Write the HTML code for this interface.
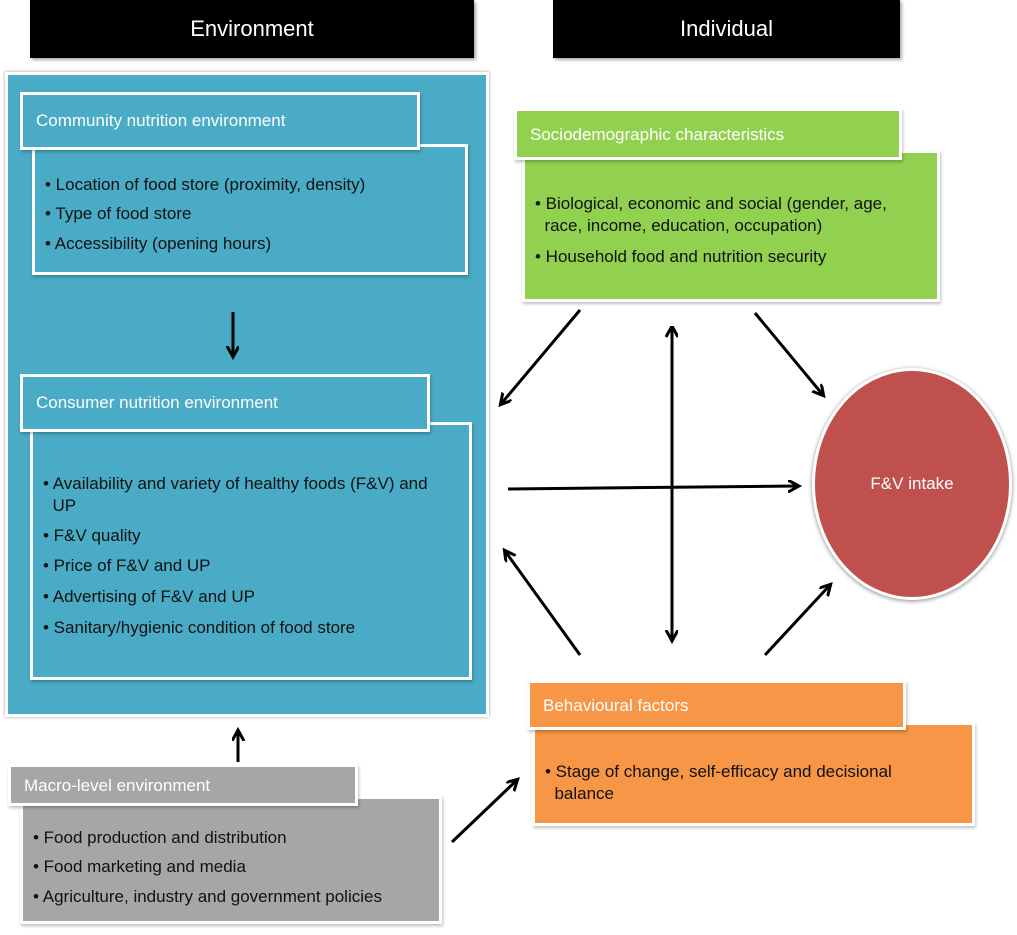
<!DOCTYPE html>
<html><head><meta charset="utf-8"><style>
body{margin:0;width:1017px;height:935px;background:#fff;position:relative;overflow:hidden;font-family:"Liberation Sans",sans-serif}
.b{position:absolute;box-sizing:border-box}
.hdr{background:#000;color:#fff;font-size:22px;text-align:center;line-height:58px;box-shadow:2px 2px 3px #aaa}
.t{border:3px solid #fff;color:#fff;font-size:17px;padding-left:13px;box-shadow:1px 2px 3px rgba(0,0,0,.25)}
.c{border:3px solid #fff;font-size:17px;color:#111;box-shadow:1px 2px 3px rgba(0,0,0,.25)}
.c div{position:absolute;left:10px}
</style></head><body>
<div class="b hdr" style="left:30px;top:0;width:444px;height:58px">Environment</div>
<div class="b hdr" style="left:553px;top:0;width:347px;height:58px">Individual</div>

<div class="b" style="left:5px;top:72px;width:484px;height:645px;background:#4aabc6;border:3px solid #fff;box-shadow:0 0 3px #999"></div>
<div class="b c" style="left:32px;top:144px;width:436px;height:131px;background:#4aabc6">
<div style="top:28px">• Location of food store (proximity, density)</div>
<div style="top:57px">• Type of food store</div>
<div style="top:87px">• Accessibility (opening hours)</div></div>
<div class="b t" style="left:20px;top:92px;width:400px;height:58px;background:#4aabc6;line-height:52px">Community nutrition environment</div>

<div class="b c" style="left:30px;top:422px;width:442px;height:258px;background:#4aabc6">
<div style="top:48px;width:420px;line-height:22px">• Availability and variety of healthy foods (F&amp;V) and<br>&nbsp;&nbsp;UP</div>
<div style="top:101px">• F&amp;V quality</div>
<div style="top:131px">• Price of F&amp;V and UP</div>
<div style="top:162px">• Advertising of F&amp;V and UP</div>
<div style="top:193px">• Sanitary/hygienic condition of food store</div></div>
<div class="b t" style="left:20px;top:374px;width:410px;height:58px;background:#4aabc6;line-height:52px">Consumer nutrition environment</div>

<div class="b c" style="left:522px;top:150px;width:418px;height:152px;background:#92d050">
<div style="top:40px;line-height:22px">• Biological, economic and social (gender, age,<br>&nbsp;&nbsp;race, income, education, occupation)</div>
<div style="top:94px">• Household food and nutrition security</div></div>
<div class="b t" style="left:514px;top:108px;width:388px;height:52px;background:#92d050;line-height:48px">Sociodemographic characteristics</div>

<div class="b" style="left:812px;top:368px;width:200px;height:232px;border-radius:50%;background:#c0504d;border:3px solid #fff;box-shadow:0 1px 4px #888;color:#fff;font-size:17px;text-align:center;line-height:226px">F&amp;V intake</div>

<div class="b c" style="left:532px;top:722px;width:443px;height:104px;background:#f79646">
<div style="top:36px;line-height:22px">• Stage of change, self-efficacy and decisional<br>&nbsp;&nbsp;balance</div></div>
<div class="b t" style="left:527px;top:680px;width:379px;height:50px;background:#f79646;line-height:46px">Behavioural factors</div>

<div class="b c" style="left:20px;top:796px;width:422px;height:128px;background:#a6a6a6">
<div style="top:29px">• Food production and distribution</div>
<div style="top:58px">• Food marketing and media</div>
<div style="top:88px">• Agriculture, industry and government policies</div></div>
<div class="b t" style="left:8px;top:764px;width:350px;height:42px;background:#a6a6a6;line-height:38px">Macro-level environment</div>

<svg class="b" style="left:0;top:0" width="1017" height="935">
<defs><marker id="a" markerWidth="14" markerHeight="14" refX="10" refY="6" orient="auto" markerUnits="userSpaceOnUse"><path d="M0,0 L11,6 L0,12" fill="none" stroke="#000" stroke-width="3"/></marker>
<marker id="s" markerWidth="14" markerHeight="14" refX="1" refY="6" orient="auto" markerUnits="userSpaceOnUse"><path d="M11,0 L0,6 L11,12" fill="none" stroke="#000" stroke-width="3"/></marker></defs>
<g stroke="#000" stroke-width="3" fill="none">
<line x1="233" y1="312" x2="233" y2="356" marker-end="url(#a)"/>
<line x1="580" y1="310" x2="501" y2="404" marker-end="url(#a)"/>
<line x1="755" y1="313" x2="823" y2="395" marker-end="url(#a)"/>
<line x1="672" y1="327" x2="672" y2="640" marker-start="url(#s)" marker-end="url(#a)"/>
<line x1="508" y1="489" x2="798" y2="486" marker-end="url(#a)"/>
<line x1="580" y1="655" x2="505" y2="551" marker-end="url(#a)"/>
<line x1="765" y1="655" x2="830" y2="585" marker-end="url(#a)"/>
<line x1="238" y1="762" x2="238" y2="731" marker-end="url(#a)"/>
<line x1="452" y1="842" x2="517" y2="780" marker-end="url(#a)"/>
</g></svg>
</body></html>
